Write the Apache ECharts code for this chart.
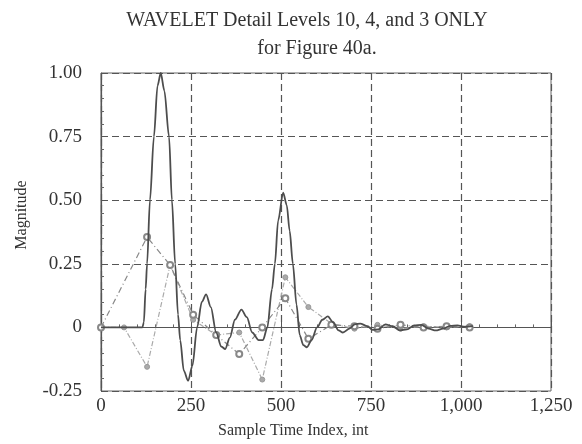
<!DOCTYPE html>
<html>
<head>
<meta charset="utf-8">
<script src="https://cdn.jsdelivr.net/npm/echarts@6/dist/echarts.min.js"></script>
<style>
  html, body { margin: 0; padding: 0; background: #fff; }
  #chart { width: 582px; height: 444px; }
</style>
</head>
<body>
<div id="chart"></div>
<script>
// Axis ticks
const xTicks = [0, 250, 500, 750, 1000, 1250];
const yTicks = [-0.25, 0, 0.25, 0.5, 0.75, 1.0];

// Detail level 10 reconstruction: [sample index, magnitude]
const level10 = [
  [0, 0], [60, 0], [115, 0], [119, 0.02], [124, 0.15], [128, 0.25], [136, 0.5],
  [147, 0.75], [157, 0.95], [166, 1.0], [176, 0.93], [189, 0.75], [197, 0.5],
  [206, 0.25], [214, 0.05], [220, -0.05], [230, -0.17], [242, -0.21], [254, -0.15],
  [267, 0], [280, 0.1], [292, 0.13], [305, 0.08], [320, -0.02], [334, -0.075],
  [345, -0.085], [358, -0.04], [372, 0.03], [390, 0.07], [405, 0.04], [420, -0.02],
  [438, -0.05], [450, -0.05], [462, 0.0], [475, 0.15], [483, 0.25], [492, 0.42],
  [506, 0.53], [516, 0.48], [524, 0.38], [533, 0.25], [543, 0.09], [552, -0.03],
  [562, -0.07], [572, -0.078], [585, -0.05], [600, 0.0], [615, 0.03], [630, 0.043],
  [645, 0.02], [660, -0.012], [672, -0.02], [690, -0.005], [705, 0.012], [720, 0.015],
  [740, 0.005], [755, -0.01], [770, -0.008], [790, 0.012], [810, 0.005], [830, -0.012],
  [850, -0.008], [870, 0.008], [890, 0.01], [910, -0.005], [930, -0.012], [950, -0.005],
  [970, 0.006], [990, 0.008], [1010, 0.002], [1033, 0.005]
];

// Detail level 4 coefficients
const level4 = [
  [0, 0], [128, 0.355], [192, 0.245], [256, 0.05], [320, -0.03], [384, -0.105],
  [448, 0.0], [512, 0.115], [576, -0.045], [640, 0.01], [704, 0.005], [768, -0.005],
  [832, 0.01], [896, 0.0], [960, 0.005], [1024, 0.0]
];

// Detail level 3 coefficients
const level3 = [
  [0, 0], [64, 0], [128, -0.155], [192, 0.245], [256, 0.03], [320, -0.03],
  [384, -0.02], [448, -0.205], [512, 0.197], [576, 0.08], [640, 0.015], [704, -0.005],
  [768, 0.01], [832, -0.005], [896, 0.005], [960, 0.0], [1024, 0.005]
];

const serif = '"Liberation Serif", "DejaVu Serif", serif';
const textColor = '#333';
const chart = echarts.init(document.getElementById('chart'), null, { renderer: 'canvas' });

const fmtX = v => v >= 1000 ? (Math.floor(v / 1000) + ',' + String(v % 1000).padStart(3, '0')) : String(v);
const fmtY = v => v === 0 ? '0' : v.toFixed(2);

chart.setOption({
  backgroundColor: '#fff',
  animation: false,
  title: [
    { text: 'WAVELET Detail Levels 10, 4, and 3 ONLY', left: 302, top: 6, textAlign: 'center',
      textStyle: { fontFamily: serif, fontSize: 20, fontWeight: 'normal', color: textColor } },
    { text: 'for Figure 40a.', left: 312, top: 34, textAlign: 'center',
      textStyle: { fontFamily: serif, fontSize: 20, fontWeight: 'normal', color: textColor } }
  ],
  graphic: [
    { type: 'text', left: 294 - 76, top: 423,
      style: { text: 'Sample Time Index, int', font: '16px ' + serif, fill: textColor } },
    { type: 'text', x: 22, y: 215, rotation: Math.PI / 2, originX: 0, originY: 0,
      style: { text: 'Magnitude', font: '16px ' + serif, fill: textColor, align: 'center', verticalAlign: 'middle' } }
  ],
  grid: { left: 101, top: 73, right: 31, bottom: 53, show: true, borderColor: '#666', borderWidth: 1 },
  xAxis: {
    type: 'value', min: xTicks[0], max: xTicks[xTicks.length - 1], interval: 250,
    axisLine: { lineStyle: { color: '#555', width: 1.2 } },
    axisTick: { inside: true, length: 6, lineStyle: { color: '#555' } },
    minorTick: { show: true, splitNumber: 5, length: 3, lineStyle: { color: '#666' } },
    axisLabel: { fontFamily: serif, fontSize: 19, color: textColor, margin: 6, formatter: fmtX },
    splitLine: { show: true, lineStyle: { color: '#555', type: [7, 4], width: 1.2 } }
  },
  yAxis: {
    type: 'value', min: yTicks[0], max: yTicks[yTicks.length - 1], interval: 0.25,
    axisLine: { show: true, lineStyle: { color: '#555', width: 1.2 } },
    axisTick: { show: true, inside: true, length: 6, lineStyle: { color: '#555' } },
    minorTick: { show: true, splitNumber: 5, length: 3, lineStyle: { color: '#666' } },
    axisLabel: { fontFamily: serif, fontSize: 19, color: textColor, margin: 19, formatter: fmtY },
    splitLine: { show: true, lineStyle: { color: '#555', type: [7, 4], width: 1.2 } }
  },
  series: [
    {
      name: 'Level 3', type: 'line', data: level3, z: 3,
      symbol: 'circle', symbolSize: 5, showSymbol: true,
      itemStyle: { color: '#aaa', borderColor: '#999' },
      lineStyle: { color: '#aaa', width: 1.2, type: [5, 2, 1, 2] }
    },
    {
      name: 'Level 4', type: 'line', data: level4, z: 4,
      symbol: 'emptyCircle', symbolSize: 6, showSymbol: true,
      itemStyle: { color: '#888', borderColor: '#888', borderWidth: 1.5 },
      lineStyle: { color: '#888', width: 1.2, type: [6, 3, 1, 3] }
    },
    {
      name: 'Level 10', type: 'line', data: level10, z: 5,
      smooth: 0.3, smoothMonotone: 'x', symbol: 'none',
      lineStyle: { color: '#4d4d4d', width: 1.8 }
    }
  ]
});
</script>
</body>
</html>
